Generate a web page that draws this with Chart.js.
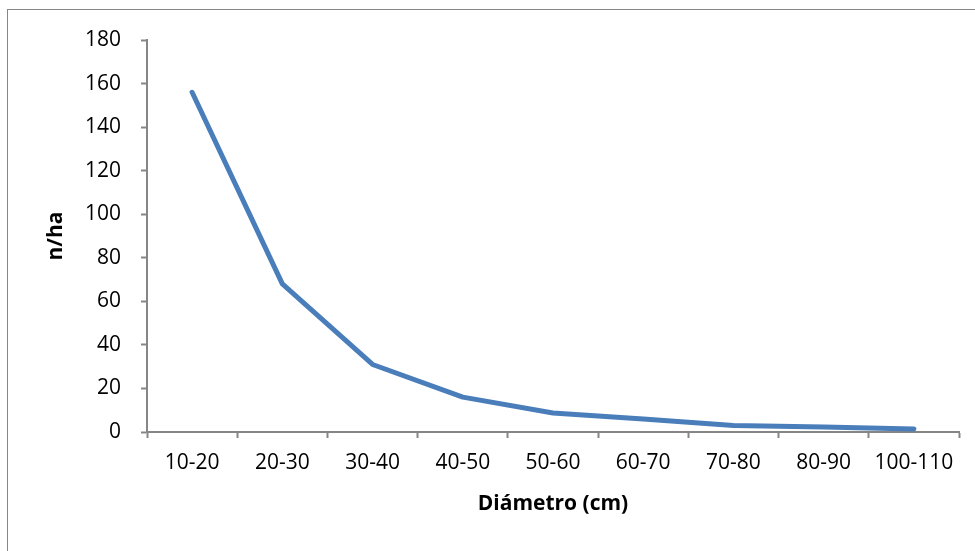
<!DOCTYPE html>
<html>
<head>
<meta charset="utf-8">
<script src="https://cdn.jsdelivr.net/npm/chart.js@4"></script>
<style>
    html, body { margin: 0; padding: 0; background: #fff; overflow: hidden; }
    #wrap { position: relative; width: 975px; height: 551px; }
    #frame { position: absolute; left: 7px; top: 9px; width: 1000px; height: 600px; border: 1px solid #868686; box-sizing: border-box; }
    canvas { position: absolute; left: 0; top: 0; }
</style>
</head>
<body>
<div id="wrap">
    <div id="frame"></div>
    <canvas id="diamChart" width="975" height="551"></canvas>
</div>
<script>
let categories = ["10-20", "20-30", "30-40", "40-50", "50-60", "60-70", "70-80", "80-90", "100-110"];
let nPerHa = [156, 68, 31, 16, 8.7, 6, 3, 2.3, 1.4];
let yTicks = [0, 20, 40, 60, 80, 100, 120, 140, 160, 180];

let axisColor = "#868686";
let fontFamily = "'Open Sans', sans-serif";

let ctx = document.getElementById("diamChart").getContext("2d");

let chart = new Chart(ctx, {
    type: "line",
    data: {
        labels: categories,
        datasets: [{
            label: "n/ha",
            data: nPerHa,
            borderColor: "#4A7EBB",
            borderWidth: 5,
            borderCapStyle: "round",
            borderJoinStyle: "round",
            tension: 0,
            pointRadius: 0,
            fill: false
        }]
    },
    options: {
        responsive: false,
        animation: false,
        layout: { padding: { top: 40, right: 16, left: 0, bottom: 0 } },
        plugins: {
            legend: { display: false },
            tooltip: { enabled: false }
        },
        scales: {
            x: {
                offset: true,
                grid: {
                    offset: true,
                    drawOnChartArea: false,
                    color: axisColor,
                    tickLength: 6,
                    tickWidth: 2
                },
                border: { color: axisColor, width: 2 },
                ticks: {
                    color: "#000",
                    font: { family: fontFamily, size: 21 },
                    padding: 12,
                    maxRotation: 0,
                    autoSkip: false
                },
                title: {
                    display: true,
                    text: "Diámetro (cm)",
                    color: "#000",
                    font: { family: fontFamily, size: 21, weight: "bold" },
                    padding: { bottom: 34 }
                },
                afterFit: function (scale) { scale.height = 119; }
            },
            y: {
                min: 0,
                max: 180,
                afterBuildTicks: function (scale) {
                    scale.ticks = yTicks.map(v => ({ value: v }));
                },
                grid: {
                    drawOnChartArea: false,
                    color: axisColor,
                    tickLength: 6,
                    tickWidth: 2
                },
                border: { color: axisColor, width: 2 },
                ticks: {
                    color: "#000",
                    font: { family: fontFamily, size: 21 },
                    padding: 20
                },
                title: {
                    display: true,
                    text: "n/ha",
                    color: "#000",
                    font: { family: fontFamily, size: 21, weight: "bold" },
                    padding: { top: 43 }
                },
                afterFit: function (scale) { scale.width = 147; }
            }
        }
    }
});
</script>
</body>
</html>
